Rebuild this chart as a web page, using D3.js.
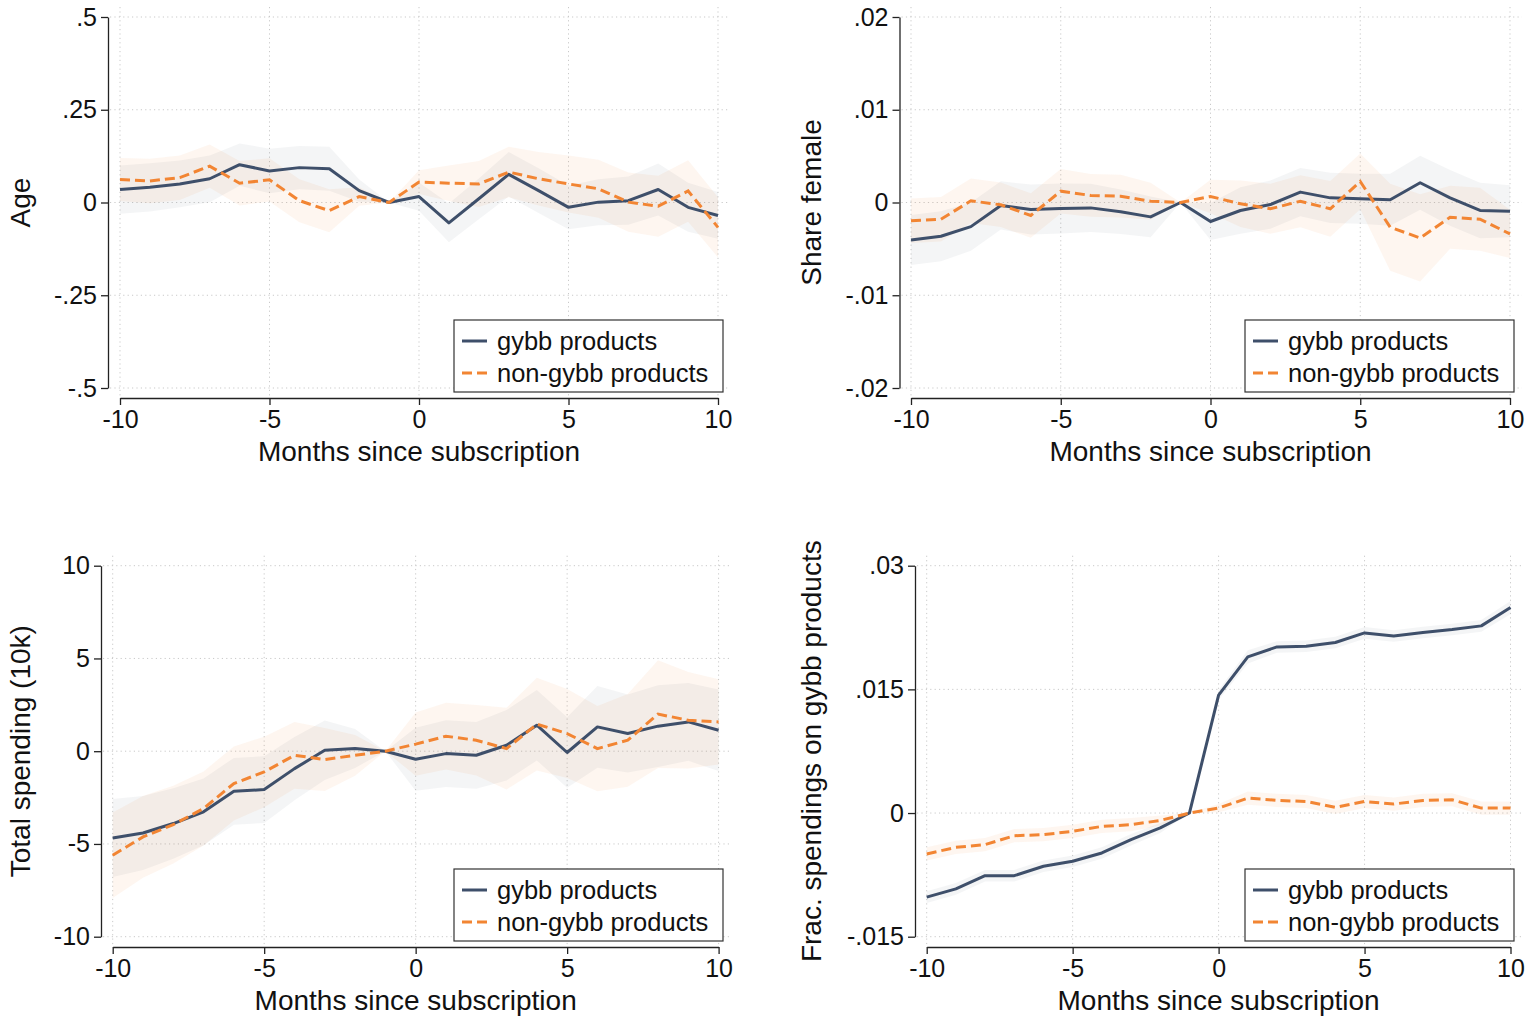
<!DOCTYPE html>
<html><head><meta charset="utf-8">
<script src="https://cdn.jsdelivr.net/npm/d3@7"></script>
<style>
body{margin:0;background:#fff}
svg{display:block}
text{font-family:"Liberation Sans",Arial,Helvetica,sans-serif;fill:#111}
</style>
</head><body>
<svg id="chart" width="1539" height="1020"></svg>
<script>
// ---------- data ----------
const months = [-10,-9,-8,-7,-6,-5,-4,-3,-2,-1,0,1,2,3,4,5,6,7,8,9,10];
const xTicks = [-10,-5,0,5,10];
const seriesNames = ["gybb products","non-gybb products"];
const xTitle = "Months since subscription";

// Panel 1: Age
const ageGybb = [0.035,0.041,0.05,0.064,0.102,0.085,0.094,0.091,0.032,0,0.016,-0.055,0.01,0.076,0.032,-0.013,0.001,0.005,0.035,-0.013,-0.035];
const ageNon  = [0.062,0.058,0.067,0.098,0.052,0.061,0.005,-0.022,0.016,0,0.055,0.052,0.05,0.082,0.064,0.05,0.037,0.001,-0.01,0.031,-0.067];
const ageGybbCI = [0.065,0.065,0.063,0.063,0.057,0.06,0.058,0.059,0.03,0,0.038,0.052,0.055,0.06,0.06,0.059,0.062,0.065,0.07,0.066,0.063];
const ageNonCI  = [0.058,0.06,0.06,0.058,0.06,0.058,0.058,0.058,0.025,0,0.032,0.048,0.062,0.068,0.072,0.077,0.078,0.08,0.082,0.083,0.081];
const ageTicks = [0.5,0.25,0,-0.25,-0.5];
const ageTickLabels = [".5",".25","0","-.25","-.5"];

// Panel 2: Share female
const femGybb = [-0.00404,-0.00364,-0.0026,-0.00032,-0.00076,-0.00065,-0.00058,-0.001,-0.00155,0,-0.00205,-0.00086,-0.00022,0.00112,0.0005,0.0004,0.00029,0.00213,0.0005,-0.00086,-0.00094];
const femNon  = [-0.00198,-0.0018,0.00018,-0.00025,-0.0014,0.00122,0.00076,0.00068,0.00014,0,0.00065,-0.00014,-0.00068,0.00014,-0.00068,0.00227,-0.00267,-0.00382,-0.00159,-0.0018,-0.00339];
const femGybbCI = [0.0027,0.0027,0.0026,0.0026,0.0027,0.0027,0.0026,0.0024,0.0022,0,0.002,0.0025,0.0026,0.0026,0.0027,0.0027,0.0028,0.0029,0.003,0.003,0.0028];
const femNonCI  = [0.0024,0.0024,0.0024,0.0024,0.0024,0.0024,0.0023,0.0023,0.002,0,0.0018,0.0025,0.0027,0.0028,0.003,0.003,0.0047,0.0047,0.0034,0.0034,0.0026];
const femTicks = [0.02,0.01,0,-0.01,-0.02];
const femTickLabels = [".02",".01","0","-.01","-.02"];

// Panel 3: Total spending (10k)
const spendGybb = [-4.68,-4.41,-3.9,-3.27,-2.16,-2.07,-0.94,0.05,0.15,0,-0.43,-0.13,-0.22,0.32,1.4,-0.07,1.31,0.95,1.35,1.58,1.13];
const spendNon  = [-5.61,-4.62,-3.96,-3.09,-1.74,-1.12,-0.22,-0.45,-0.22,0,0.38,0.81,0.59,0.14,1.46,0.95,0.14,0.59,2.0,1.67,1.58];
const spendGybbCI = [2.1,2.0,1.9,1.8,1.8,1.8,1.7,1.6,1.05,0,1.7,1.8,1.8,1.9,1.9,1.9,2.2,2.1,2.2,2.1,2.2];
const spendNonCI  = [2.3,2.2,2.1,2.0,2.0,1.9,1.8,1.7,1.1,0,1.7,1.8,1.9,2.2,2.5,2.4,2.3,2.5,2.9,2.6,2.3];
const spendTicks = [10,5,0,-5,-10];
const spendTickLabels = ["10","5","0","-5","-10"];

// Panel 4: Frac. spendings on gybb products
const fracGybb = [-0.0102,-0.0092,-0.0076,-0.0076,-0.00646,-0.00585,-0.00484,-0.00323,-0.00181,0,0.0143,0.01895,0.02015,0.02024,0.02068,0.02185,0.02148,0.0219,0.02226,0.0227,0.02492];
const fracNon  = [-0.00496,-0.00416,-0.00383,-0.00275,-0.00262,-0.00222,-0.00162,-0.00141,-0.0009,0,0.0006,0.00181,0.00153,0.0014,0.00068,0.0014,0.00109,0.00153,0.00161,0.0006,0.0006];
const fracGybbCI = [0.0007,0.0007,0.0007,0.0007,0.0007,0.0007,0.0007,0.0007,0.0006,0,0.0006,0.0008,0.0007,0.0007,0.0007,0.0007,0.0007,0.0007,0.0007,0.0007,0.0008];
const fracNonCI  = [0.0008,0.0008,0.0008,0.0008,0.0008,0.0008,0.0008,0.0008,0.0006,0,0.0005,0.0008,0.0008,0.0008,0.0008,0.0008,0.0008,0.0008,0.0008,0.0008,0.0008];
const fracTicks = [0.03,0.015,0,-0.015];
const fracTickLabels = [".03",".015","0","-.015"];

// ---------- layout ----------
const panels = [
  {title:"Age", g:ageGybb, n:ageNon, gci:ageGybbCI, nci:ageNonCI, ticks:ageTicks, labels:ageTickLabels,
   x0:120, x1:718, yTop:17, yBot:388, axisX:108, axisY:398, titleX:30, legX:454, legY:320},
  {title:"Share female", g:femGybb, n:femNon, gci:femGybbCI, nci:femNonCI, ticks:femTicks, labels:femTickLabels,
   x0:911, x1:1510, yTop:17, yBot:388, axisX:899.5, axisY:398, titleX:821, legX:1245, legY:320},
  {title:"Total spending (10k)", g:spendGybb, n:spendNon, gci:spendGybbCI, nci:spendNonCI, ticks:spendTicks, labels:spendTickLabels,
   x0:112.7, x1:718.6, yTop:565.7, yBot:936.7, axisX:101, axisY:947, titleX:30, legX:454, legY:869},
  {title:"Frac. spendings on gybb products", g:fracGybb, n:fracNon, gci:fracGybbCI, nci:fracNonCI, ticks:fracTicks, labels:fracTickLabels,
   x0:926.7, x1:1510.5, yTop:565.7, yBot:936.7, axisX:915, axisY:947, titleX:821, legX:1245, legY:869}
];

const colG = "#3e4f6a", colN = "#f28533";
const svg = d3.select("#chart");

panels.forEach(p => {
  const x = d3.scaleLinear().domain([-10,10]).range([p.x0, p.x1]);
  const y = d3.scaleLinear().domain([d3.min(p.ticks), d3.max(p.ticks)]).range([p.yBot, p.yTop]);
  const g = svg.append("g");

  // gridlines (interior y ticks; all x ticks)
  const grid = g.append("g").attr("stroke","#c9c9c9").attr("stroke-width",1).attr("stroke-dasharray","1.2,3.2");
  xTicks.forEach(t => grid.append("line").attr("x1",x(t)).attr("x2",x(t)).attr("y1",p.yTop-10).attr("y2",p.axisY-1));
  p.ticks.forEach(t => grid.append("line").attr("x1",p.axisX+2).attr("x2",p.x1+12).attr("y1",y(t)).attr("y2",y(t)));

  // CI bands
  const band = (vals, ci) => d3.area().x((d,i)=>x(months[i])).y0((d,i)=>y(vals[i]-ci[i])).y1((d,i)=>y(vals[i]+ci[i]))(months);
  g.append("path").attr("d", band(p.g, p.gci)).attr("fill", colG).attr("fill-opacity",0.06);
  g.append("path").attr("d", band(p.n, p.nci)).attr("fill", colN).attr("fill-opacity",0.075);

  // lines
  const line = vals => d3.line().x((d,i)=>x(months[i])).y((d,i)=>y(vals[i]))(months);
  g.append("path").attr("d", line(p.g)).attr("fill","none").attr("stroke",colG).attr("stroke-width",3).attr("stroke-linejoin","round");
  g.append("path").attr("d", line(p.n)).attr("fill","none").attr("stroke",colN).attr("stroke-width",3).attr("stroke-dasharray","10,5");

  // axes
  const ya = g.append("g").attr("transform",`translate(${p.axisX},0)`)
    .call(d3.axisLeft(y).tickValues(p.ticks).tickFormat((d,i)=>p.labels[i]).tickSize(7).tickSizeOuter(0).tickPadding(4));
  const xa = g.append("g").attr("transform",`translate(0,${p.axisY})`)
    .call(d3.axisBottom(x).tickValues(xTicks).tickFormat(d=>String(d)).tickSize(7).tickSizeOuter(0).tickPadding(5));
  [ya, xa].forEach(a => {
    a.selectAll("path.domain").attr("stroke","#222").attr("stroke-width",1.3);
    a.selectAll(".tick line").attr("stroke","#222").attr("stroke-width",1.3);
    a.selectAll(".tick text").attr("font-size",25).attr("fill","#111").style("font-family","'Liberation Sans',Arial,sans-serif");
  });

  // titles
  g.append("text").attr("x",(p.x0+p.x1)/2).attr("y",p.axisY+63).attr("text-anchor","middle").attr("font-size",28).text(xTitle);
  g.append("text").attr("transform",`translate(${p.titleX},${(p.yTop+p.yBot)/2}) rotate(-90)`).attr("text-anchor","middle").attr("font-size",28).text(p.title);

  // legend
  const lg = g.append("g").attr("transform",`translate(${p.legX},${p.legY})`);
  lg.append("rect").attr("x",0).attr("y",0).attr("width",269).attr("height",72).attr("fill","#fff").attr("stroke","#333").attr("stroke-width",1.2);
  [[colG,null,21],[colN,"10,5",53]].forEach(([c,dash,yy],i)=>{
    const l = lg.append("line").attr("x1",8).attr("x2",33).attr("y1",yy).attr("y2",yy).attr("stroke",c).attr("stroke-width",3);
    if (dash) l.attr("stroke-dasharray",dash);
    lg.append("text").attr("x",43).attr("y",yy+8.5).attr("font-size",25.5).text(seriesNames[i]);
  });
});
</script>
</body></html>
